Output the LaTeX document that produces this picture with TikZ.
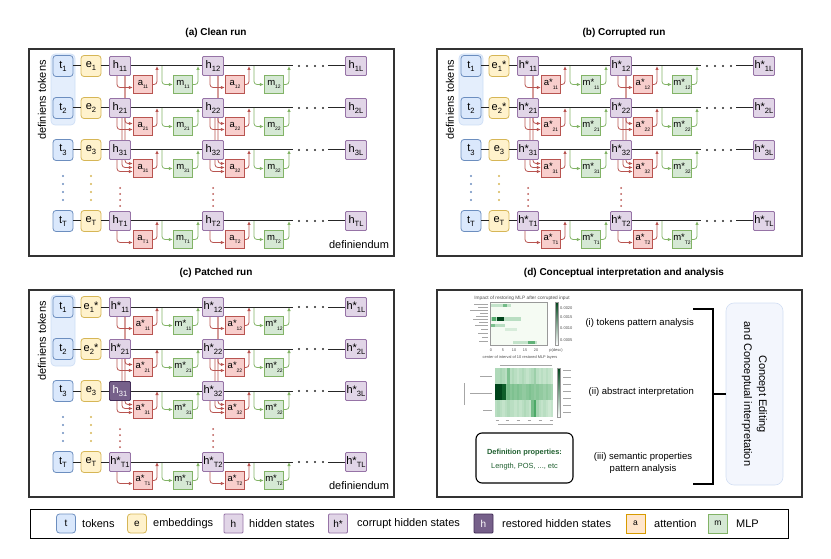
\documentclass[tikz,border=0pt]{standalone}
\usepackage{fontspec}
\setmainfont{Liberation Sans}
\usetikzlibrary{arrows.meta}
\pgfdeclarelayer{back}
\pgfdeclarelayer{bg}
\pgfsetlayers{back,bg,main}
\definecolor{tF}{HTML}{DAE8FC}\definecolor{tD}{HTML}{6C8EBF}
\definecolor{eF}{HTML}{FFF2CC}\definecolor{eD}{HTML}{D6B656}
\definecolor{hF}{HTML}{E1D5E7}\definecolor{hD}{HTML}{9673A6}
\definecolor{aF}{HTML}{F8CECC}\definecolor{aD}{HTML}{B85450}
\definecolor{mF}{HTML}{D5E8D4}\definecolor{mD}{HTML}{82B366}
\definecolor{rF}{HTML}{76608A}\definecolor{rD}{HTML}{432D57}
\definecolor{oF}{HTML}{FFE6CC}\definecolor{oD}{HTML}{D79B00}
\definecolor{hiF}{HTML}{E4EEFC}\definecolor{hiD}{HTML}{CCDDF5}
\definecolor{cpF}{HTML}{F3F6FD}\definecolor{cpD}{HTML}{D3DFF3}
\definecolor{hmD}{HTML}{00441B}\definecolor{hmM}{HTML}{2E9A4E}\definecolor{hmL}{HTML}{F5FBF3}
\definecolor{defG}{HTML}{1F5F2F}
\newcommand\fsz[1]{\fontsize{#1}{#1}\selectfont}
\newcommand\sbx[1]{\raisebox{-0.28em}{\fontsize{7.6}{8}\selectfont #1}}
\newcommand\tsb[1]{\raisebox{-0.4em}{\fontsize{5}{6}\selectfont #1}}
\tikzset{
  bx/.style={inner sep=0pt, line width=0.8pt, align=center},
  tbox/.style={bx, draw=tD, fill=tF, rounded corners=3pt, minimum width=20pt, minimum height=21pt, font=\fsz{11}},
  ebox/.style={bx, draw=eD, fill=eF, rounded corners=3pt, minimum width=20pt, minimum height=21pt, font=\fsz{11}},
  hbox/.style={bx, draw=hD, fill=hF, rounded corners=1pt, minimum width=21pt, minimum height=19pt, font=\fsz{11}},
  rbox/.style={bx, draw=rD, fill=rF, text=white, rounded corners=1pt, minimum width=21pt, minimum height=19pt, font=\fsz{11}},
  abox/.style={bx, draw=aD, fill=aF, minimum width=19.5pt, minimum height=18pt, font=\fsz{9.5}},
  mbox/.style={bx, draw=mD, fill=mF, minimum width=19.5pt, minimum height=18pt, font=\fsz{9.5}},
  obox/.style={bx, draw=oD, fill=oF, minimum width=19pt, minimum height=19pt, font=\fsz{8.5}},
  hilite/.style={draw=hiD, fill=hiF, rounded corners=4pt, minimum width=24pt, minimum height=71pt, line width=0.6pt},
  panelframe/.style={draw=black!80, line width=1.2pt},
  mainln/.style={draw=black!85, line width=1pt},
  redln/.style={draw=aD, line width=0.8pt, rounded corners=3pt, -{Latex[length=4pt,width=3.5pt]}},
  grnln/.style={draw=mD, line width=0.8pt, rounded corners=3pt, -{Latex[length=4pt,width=3.5pt]}},
  ttl/.style={font=\bfseries\fsz{10}, inner sep=0pt},
  txt/.style={inner sep=0pt},
  lgtxt/.style={inner sep=0pt, anchor=west, font=\fsz{11}},
  lgb/.style={minimum width=19pt, minimum height=19pt},
  hmtxt/.style={inner sep=0pt, text=black!70},
  gstroke/.style={draw=black!35, line width=1.1pt},
}
\newcommand\drawpanel[4]{%
\begin{scope}[shift={(#2,#3)}]
\begin{pgfonlayer}{back}
  \draw[panelframe] (29,49) rectangle (394,256);
  \node[hilite] (#1-hl) at (63,89.5) {};
\end{pgfonlayer}
\node[rotate=90, txt, font=\fsz{11}] (#1-dt) at (42,100) {definiens tokens};
\foreach \i/\y/\es/\rw in {1/66/1/1,2/108/1/2,3/150/0/3,T/221/0/4}{%
  \node[tbox] (#1-t\i) at (63,\y) {t\sbx{\i}};
  \ifnum\numexpr#4*\es\relax>0
    \node[ebox] (#1-e\i) at (91,\y) {e\sbx{\i}*};
  \else
    \node[ebox] (#1-e\i) at (91,\y) {e\sbx{\i}};
  \fi
  \foreach \j/\hx/\ax/\mx in {1/120/143/183,2/213/235/274}{%
    \tikzset{hsel/.style={hbox}}%
    \def\htx{\ifnum#4>0 h*\else h\fi\sbx{\i\j}}%
    \ifnum#4=2 \ifnum\rw=3 \ifnum\j=1 \tikzset{hsel/.style={rbox}}\def\htx{h\sbx{\i\j}}\fi\fi\fi
    \node[hsel] (#1-h\i\j) at (\hx,\y) {\htx};
    \node[abox] (#1-a\i\j) at (\ax,\y+18.5) {a\ifnum#4>0 *\fi\tsb{\i\j}};
    \node[mbox] (#1-m\i\j) at (\mx,\y+18.5) {m\ifnum#4>0 *\fi\tsb{\i\j}};
    \coordinate (#1-ra\i\j) at (\ax+14,\y);
    \coordinate (#1-gs\i\j) at (\ax+19,\y);
    \coordinate (#1-mu\i\j) at (\mx+15,\y);
    \begin{pgfonlayer}{bg}
      \draw[redln] (#1-a\i\j.east) -| (#1-ra\i\j);
      \draw[grnln] (#1-gs\i\j) |- (#1-m\i\j.west);
      \draw[grnln] (#1-m\i\j.east) -| (#1-mu\i\j);
      \draw[redln] ([xshift=-3pt]#1-h\i\j.south) |- ([yshift=-3pt]#1-a\i\j.west);
    \end{pgfonlayer}
  }
  \node[hbox] (#1-h\i-L) at (356,\y) {\ifnum#4>0 h*\else h\fi\sbx{\i L}};
  \coordinate (#1-le\i) at (293,\y);
  \coordinate (#1-ls\i) at (328,\y);
  \draw[mainln] (#1-t\i) -- (#1-e\i);
  \draw[mainln] (#1-e\i) -- (#1-h\i1);
  \draw[mainln] (#1-h\i1) -- (#1-h\i2);
  \draw[mainln] (#1-h\i2) -- (#1-le\i);
  \draw[mainln] (#1-ls\i) -- (#1-h\i-L);
  \foreach \dx in {299,307,315,323} \fill[black!85] (\dx,\y) circle (1.1);
}
\foreach \j/\hx in {1/120,2/213}{%
  \begin{pgfonlayer}{bg}
    \draw[redln] ([xshift=5pt]#1-h1\j.south) |- ([yshift=3pt]#1-a2\j.west);
    \draw[redln] ([xshift=5pt]#1-h1\j.south) |- ([yshift=5pt]#1-a3\j.west);
    \draw[redln] ([xshift=2pt]#1-h2\j.south) |- ([yshift=1pt]#1-a3\j.west);
  \end{pgfonlayer}
  \foreach \dy in {188,194,200,206} \fill[aD] (\hx,\dy) circle (1);
}
\foreach \dy in {176,184,192,200}{\fill[tD] (63,\dy) circle (1.1); \fill[eD] (91,\dy) circle (1.1);}
\ifnum#4=1 \else \node[txt, font=\fsz{11}] (#1-def) at (359,245) {definiendum};\fi
\end{scope}}
\begin{document}
\begin{tikzpicture}[x=1pt,y=-1pt]
\useasboundingbox (0,0) rectangle (831,559);
% titles
\node[ttl] (ttl-a) at (216,33) {(a) Clean run};
\node[ttl] (ttl-b) at (624,33) {(b) Corrupted run};
\node[ttl] (ttl-c) at (216,273) {(c) Patched run};
\node[ttl] (ttl-d) at (624,273) {(d) Conceptual interpretation and analysis};
\drawpanel{a}{0}{0}{0}
\drawpanel{b}{408}{0}{1}
\drawpanel{c}{0}{241}{2}
% panel d
\draw[panelframe] (437,290) rectangle (802,497);
% heatmap 1
\node[hmtxt, font=\fsz{4.8}] (hm1-title) at (522,298) {Impact of restoring MLP after corrupted input};
\fill[hmL] (490,302) rectangle (547,345);
\fill[hmM!25!hmL] (491,303.5) rectangle (511,307);
\fill[hmM!65!hmL] (503,303.5) rectangle (507,307);
\fill[hmM!30!hmL] (491,317) rectangle (521,321);
\fill[hmM!80!hmL] (492,317) rectangle (496,321);
\fill[hmD] (497,317) rectangle (504,321);
\fill[hmM!30!hmL] (490,324) rectangle (505,327);
\fill[hmM!60!hmL] (491,324) rectangle (495,327);
\fill[hmM!15!hmL] (505,328) rectangle (517,331);
\fill[hmM!25!hmL] (513,341) rectangle (537,344);
\fill[hmM!75!hmL] (528,341) rectangle (535,344);
\draw[black!40, line width=0.3pt] (490,302) rectangle (547,345);
\shade[top color=hmD, bottom color=white] (555,302) rectangle (558,345);
\draw[black!40, line width=0.3pt] (555,302) rectangle (558,345);
\node[hmtxt, anchor=west, font=\fsz{4}] (cb1) at (560,308) {0.0020};
\node[hmtxt, anchor=west, font=\fsz{4}] (cb2) at (560,317) {0.0015};
\node[hmtxt, anchor=west, font=\fsz{4}] (cb3) at (560,328) {0.0010};
\node[hmtxt, anchor=west, font=\fsz{4}] (cb4) at (560,340) {0.0005};
\node[hmtxt, font=\fsz{4}] (cb5) at (556,350) {p(desc)};
\foreach \tx/\tl in {491/0,503/5,514/10,525/15,536/20}
  \node[hmtxt, font=\fsz{3.8}] (hm1-x\tl) at (\tx,350) {\tl};
\node[hmtxt, font=\fsz{3.9}] (hm1-xl) at (520,357) {center of interval of 10 restored MLP layers};
\foreach \yy/\ll in {304/14,307/10,310/18,313/8,316/12,319/15,322/9,325/13,329/7,333/10,337/6,341/9}
  \draw[gstroke, line width=0.9pt] (488-\ll,\yy) -- (488,\yy);
% heatmap 2
\draw[gstroke, line width=0.8pt] (500,365) -- (552,365);
\foreach \v [count=\c from 0] in {35,35,40,35,30,60,30,35,30,25,30,35,30,25,30,35,45,30,25,30,25,30,25,20}
  \fill[hmM!\v!hmL] ({495+\c*2.4167},368) rectangle ({495+(\c+1)*2.4167+0.05},384);
\foreach \v [count=\c from 0] in {100,100,100,90,60,65,55,60,55,60,55,50,50,55,60,55,50,55,50,50,45,50,45,40}
  \fill[hmM!\v!hmL] ({495+\c*2.4167},384) rectangle ({495+(\c+1)*2.4167+0.05},400);
\fill[hmD] (495,384) rectangle (502.3,400);
\fill[hmD!70!hmM] (502.3,384) rectangle (506,400);
\foreach \v [count=\c from 0] in {30,35,30,25,30,35,30,30,25,30,25,30,35,30,25,65,85,40,30,25,30,25,20,25}
  \fill[hmM!\v!hmL] ({495+\c*2.4167},400) rectangle ({495+(\c+1)*2.4167+0.05},417);
\shade[top color=hmD, bottom color=white] (557,368) rectangle (560,417);
\draw[black!40, line width=0.3pt] (557,368) rectangle (560,417);
\foreach \yy in {370,377,384,391,398,405,412} \draw[gstroke, line width=0.8pt] (563,\yy) -- (571,\yy);
\foreach \yy/\ll in {376/12,393/22,410/9} \draw[gstroke, line width=0.9pt] (492-\ll,\yy) -- (492,\yy);
\draw[gstroke, line width=0.9pt] (464,383) -- (464,405);
\foreach \xx in {497,507,518,529,540,551} \draw[gstroke, line width=0.7pt] (\xx-1.5,420.5) -- (\xx+1.5,420.5);
\draw[gstroke, line width=0.8pt] (498,424) -- (553,424);
% definition box
\node[draw, line width=1.1pt, rounded corners=6pt, minimum width=97pt, minimum height=50pt] (defbox) at (524.5,458) {};
\node[txt, font=\bfseries\fsz{7.4}, text=defG] (def1) at (524.5,453) {Definition properties:};
\node[txt, font=\fsz{7.4}, text=defG] (def2) at (524.5,467) {Length, POS, ..., etc};
% right column
\node[txt, anchor=east, font=\fsz{9.5}] (d-i) at (694,323) {(i) tokens pattern analysis};
\node[txt, anchor=east, font=\fsz{9.5}] (d-ii) at (694,392) {(ii) abstract interpretation};
\node[txt, align=center, font=\fontsize{9.5}{11.5}\selectfont] (d-iii) at (643,463) {(iii) semantic properties\\pattern analysis};
\node[draw=cpD, fill=cpF, rounded corners=8pt, minimum width=57pt, minimum height=182pt, line width=0.6pt] (cpt) at (754.5,394) {};
\node[txt, rotate=-90, align=center, font=\fontsize{11}{15}\selectfont] (cpt-t) at (754.5,394) {Concept Editing\\and Conceptual interpretation};
\coordinate (br-t) at (693,309);
\coordinate (br-b) at (693,484);
\coordinate (br-m) at (713,394);
\draw[line width=1.5pt] (br-t) -- (713,309) -- (713,484) -- (br-b);
\draw[line width=1.5pt] (br-m) -- (cpt.west);
% legend
\draw[line width=1pt] (30,509) rectangle (788,538);
\node[tbox, lgb, font=\fsz{10}] (lg-t) at (66,523.5) {t};
\node[lgtxt] (lg-tt) at (82,523.5) {tokens};
\node[ebox, lgb, font=\fsz{10}] (lg-e) at (137,523.5) {e};
\node[lgtxt] (lg-et) at (153,523.5) {embeddings};
\node[hbox, lgb, font=\fsz{10}] (lg-h) at (233.5,523.5) {h};
\node[lgtxt] (lg-ht) at (249,523.5) {hidden states};
\node[hbox, lgb, font=\fsz{10}] (lg-hs) at (338,523.5) {h*};
\node[lgtxt] (lg-hst) at (357,523.5) {corrupt hidden states};
\node[rbox, lgb, font=\fsz{10}] (lg-r) at (483.5,523.5) {h};
\node[lgtxt] (lg-rt) at (502,523.5) {restored hidden states};
\node[obox] (lg-a) at (635.5,523.5) {a};
\node[lgtxt] (lg-at) at (654,523.5) {attention};
\node[mbox, lgb, font=\fsz{8.5}] (lg-m) at (718,523.5) {m};
\node[lgtxt] (lg-mt) at (736,523.5) {MLP};
\end{tikzpicture}
\end{document}
